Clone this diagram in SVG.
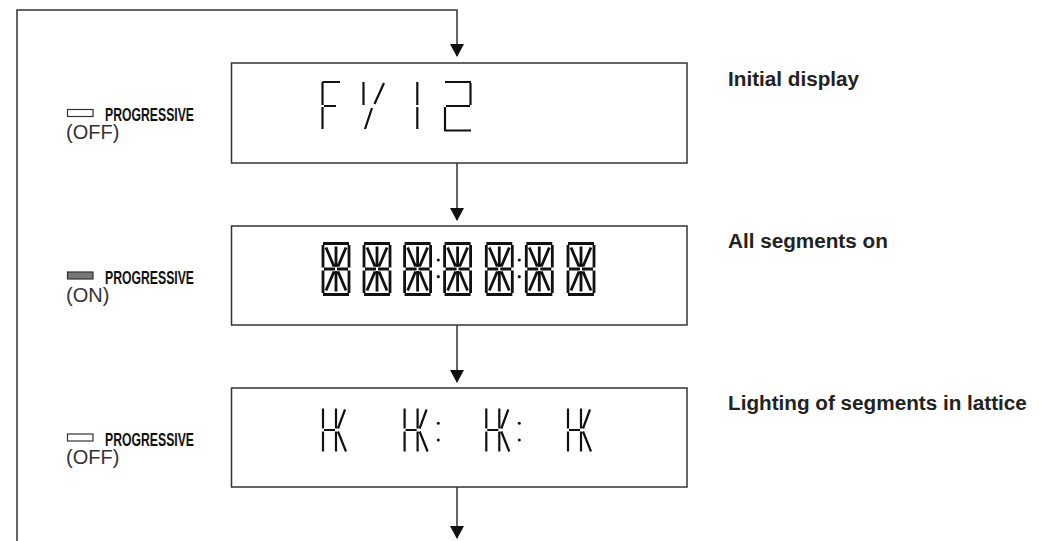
<svg xmlns="http://www.w3.org/2000/svg" width="1055" height="541" viewBox="0 0 1055 541">
<style>
.box{fill:#fff;stroke:#333;stroke-width:1.5}
.wire{fill:none;stroke:#333;stroke-width:1.5}
.seg{fill:none;stroke:#111;stroke-width:2.2;stroke-linecap:butt}
.seg2{fill:none;stroke:#111;stroke-width:2.8;stroke-linecap:butt}
.prog{font-family:"Liberation Sans",Arial,sans-serif;font-weight:bold;font-size:17.5px;fill:#111}
.state{font-family:"Liberation Sans",Arial,sans-serif;font-size:20px;fill:#333}
.lbl{font-family:"Liberation Sans",Arial,sans-serif;font-weight:bold;font-size:20.7px;fill:#222}
.ledoff{fill:#fff;stroke:#333;stroke-width:1.2}
.ledon{fill:#777;stroke:#333;stroke-width:1.2}
.dot{fill:#111}
</style>
<defs>
<marker id="arr" markerWidth="14" markerHeight="14" refX="12" refY="7" orient="auto" markerUnits="userSpaceOnUse" viewBox="0 0 13 14">
<path d="M0,0 L13,7 L0,14 Z" fill="#111"/>
</marker>
<symbol id="d14" overflow="visible">
<path class="seg2" d="M0,0 H26 M0,51 H26 M1,25.5 H12 M14,25.5 H25 M0,1.5 V24 M0,27 V49.5 M26,1.5 V24 M26,27 V49.5 M13,3 V23.5 M13,27.5 V48 M3,4 L11,23 M23,4 L15,23 M11,28 L3,47 M15,28 L23,47"/>
</symbol>
<symbol id="lat" overflow="visible">
<path class="seg" d="M0,0 V20 M0,23 V43 M1,21.5 H12 M13,0 V20 M13,23 V43 M15,20 L22,1 M15,23 L23,43"/>
</symbol>
</defs>

<g id="connectors">
<path class="wire" d="M17,541 V10 H457 V56" marker-end="url(#arr)"/>
<path class="wire" d="M457,163 V220" marker-end="url(#arr)"/>
<path class="wire" d="M457,325 V382" marker-end="url(#arr)"/>
<path class="wire" d="M457,487 V538" marker-end="url(#arr)"/>
</g>

<g id="node-initial">
<rect class="box" x="231.5" y="63" width="455.5" height="100"/>
<path class="seg" d="M322.5,82 H340 M322.5,82 V105 M322.5,107 V129 M324,106 H336"/>
<path class="seg" d="M363.5,82 V105 M374.5,104 L384,83 M365,129 L372,108"/>
<path class="seg" d="M417.3,82 V105 M417.3,107 V129"/>
<path class="seg" d="M445,82 H471 M470.5,83 V105 M446,106 H470 M445,107 V130.5 M444,130.5 H471"/>
</g>

<g id="node-all">
<rect class="box" x="231.5" y="226" width="455.5" height="99"/>
<use href="#d14" x="323" y="243.5"/>
<use href="#d14" x="364" y="243.5"/>
<use href="#d14" x="404.6" y="243.5"/>
<use href="#d14" x="444.6" y="243.5"/>
<use href="#d14" x="486.3" y="243.5"/>
<use href="#d14" x="526.3" y="243.5"/>
<use href="#d14" x="568" y="243.5"/>
<circle class="dot" cx="438.3" cy="260" r="1.6"/>
<circle class="dot" cx="438.3" cy="276.7" r="1.6"/>
<circle class="dot" cx="519.3" cy="260" r="1.6"/>
<circle class="dot" cx="519.3" cy="276.7" r="1.6"/>
</g>

<g id="node-lattice">
<rect class="box" x="231.5" y="388" width="455.5" height="99"/>
<use href="#lat" x="323" y="408.5"/>
<use href="#lat" x="404.6" y="408.5"/>
<use href="#lat" x="486.3" y="408.5"/>
<use href="#lat" x="568" y="408.5"/>
<circle class="dot" cx="438.3" cy="423.3" r="1.5"/>
<circle class="dot" cx="438.3" cy="440" r="1.5"/>
<circle class="dot" cx="519.3" cy="423.3" r="1.5"/>
<circle class="dot" cx="519.3" cy="440" r="1.5"/>
</g>

<g id="indicator-1">
<rect class="ledoff" x="67.5" y="109.5" width="25.5" height="7"/>
<text class="prog" x="105" y="121" textLength="89" lengthAdjust="spacingAndGlyphs">PROGRESSIVE</text>
<text class="state" x="66" y="139">(OFF)</text>
</g>
<g id="indicator-2">
<rect class="ledon" x="67.5" y="272" width="25.5" height="7"/>
<text class="prog" x="105" y="283.5" textLength="89" lengthAdjust="spacingAndGlyphs">PROGRESSIVE</text>
<text class="state" x="66" y="301.5">(ON)</text>
</g>
<g id="indicator-3">
<rect class="ledoff" x="67.5" y="434" width="25.5" height="7"/>
<text class="prog" x="105" y="445.5" textLength="89" lengthAdjust="spacingAndGlyphs">PROGRESSIVE</text>
<text class="state" x="66" y="463.5">(OFF)</text>
</g>

<g id="labels">
<text class="lbl" x="728" y="86">Initial display</text>
<text class="lbl" x="728" y="248">All segments on</text>
<text class="lbl" x="728" y="410">Lighting of segments in lattice</text>
</g>
</svg>
